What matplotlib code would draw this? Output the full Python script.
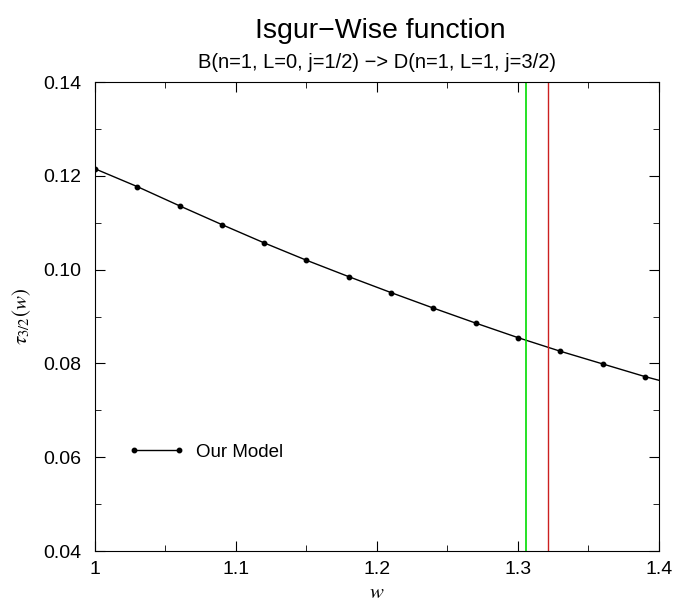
import matplotlib
matplotlib.use('Agg')
import matplotlib.pyplot as plt
from matplotlib.ticker import MultipleLocator

plt.rcParams['font.family'] = ['Liberation Sans', 'DejaVu Sans']
plt.rcParams['mathtext.fontset'] = 'stix'

# model points (markers)
w_pts = [1.00, 1.03, 1.06, 1.09, 1.12, 1.15, 1.18, 1.21, 1.24, 1.27, 1.30, 1.33, 1.36, 1.39]
tau_pts = [0.1215, 0.1177, 0.1136, 0.1096, 0.1057, 0.1020, 0.0985, 0.0951, 0.0918, 0.0886,
           0.0855, 0.0826, 0.0799, 0.0772]
# curve runs on to the edge of the plot
w_curve = w_pts + [1.40]
tau_curve = tau_pts + [0.0764]

w_green = 1.306
w_red = 1.321

fig = plt.figure(figsize=(6.76, 6.04), dpi=100)
ax = fig.add_axes([0.1405, 0.0877, 0.8343, 0.7765])

ax.plot(w_curve, tau_curve, color='black', lw=1.0)
ax.plot(w_pts, tau_pts, 'o', color='black', ms=3.2)
ax.axvline(w_green, color='#00dd00', lw=1.2)
ax.axvline(w_red, color='#cc2020', lw=1.0)

# legend entry
h, = ax.plot([], [], '-o', color='black', lw=1.0, ms=3.2)
ax.legend([h], ['Our Model'], loc='lower left', bbox_to_anchor=(0.03, 0.156),
          frameon=False, numpoints=2, handlelength=3.0, handletextpad=0.6, fontsize=13.5)

ax.set_xlim(1.0, 1.4)
ax.set_ylim(0.04, 0.14)
ax.xaxis.set_major_locator(MultipleLocator(0.1))
ax.xaxis.set_minor_locator(MultipleLocator(0.05))
ax.yaxis.set_major_locator(MultipleLocator(0.02))
ax.yaxis.set_minor_locator(MultipleLocator(0.01))
ax.set_xticks([1.0, 1.1, 1.2, 1.3, 1.4])
ax.set_xticklabels(['1', '1.1', '1.2', '1.3', '1.4'])
ax.set_yticklabels(['%.2f' % v for v in ax.get_yticks()])
ax.tick_params(which='both', direction='in', top=True, right=True, labelsize=14)
ax.tick_params(which='major', length=7, pad=7)
ax.tick_params(axis='y', which='major', pad=10)
ax.tick_params(which='minor', length=4)

ax.set_xlabel(r'$w$', fontsize=15, labelpad=4)
ax.set_ylabel(r'$\tau_{3/2}(w)$', fontsize=15, labelpad=7)

fig.text(0.562, 0.948, 'Isgur\u2212Wise function', ha='center', va='center', fontsize=20.5)
fig.text(0.558, 0.897, 'B(n=1, L=0, j=1/2) \u2212> D(n=1, L=1, j=3/2)', ha='center', va='center', fontsize=14.5)

plt.savefig('out.png', dpi=100)
